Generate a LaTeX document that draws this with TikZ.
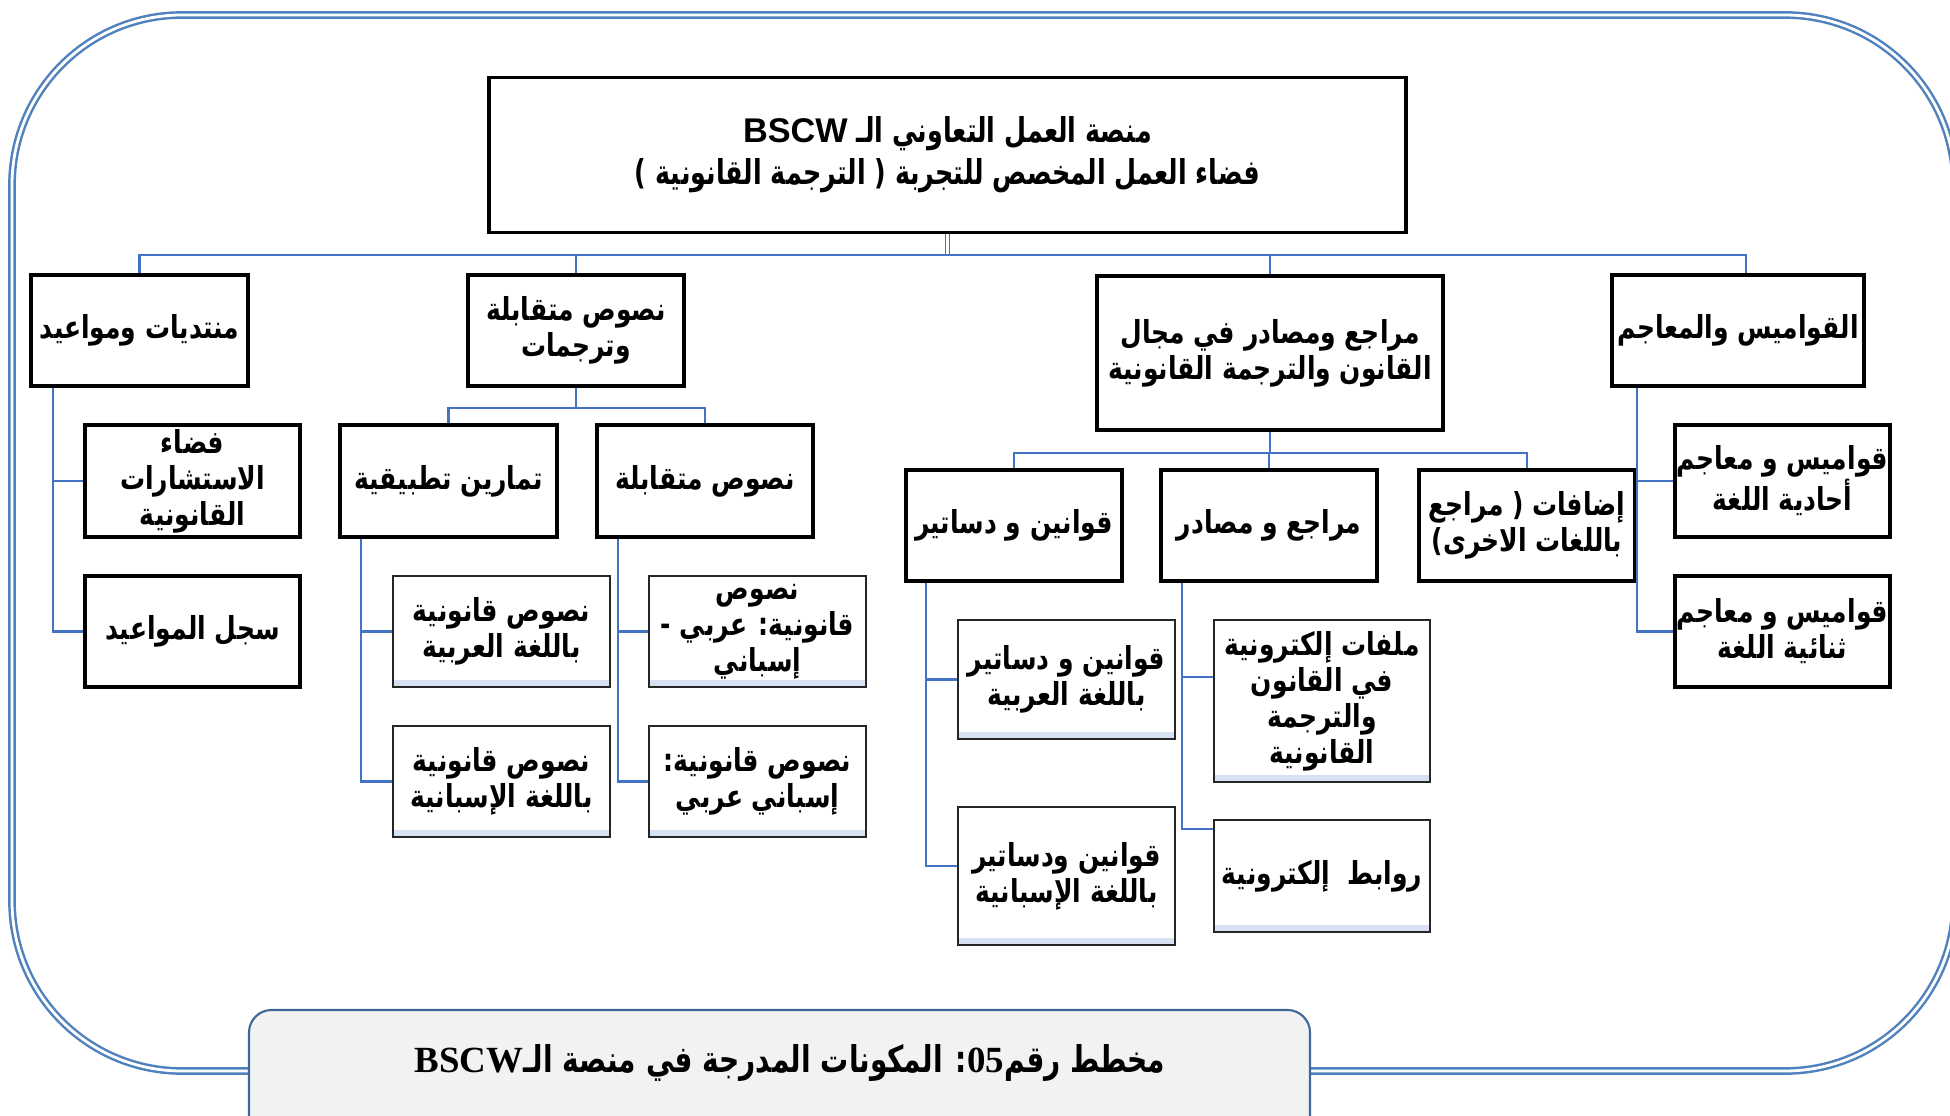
\documentclass[tikz,border=0pt]{standalone}
\usepackage{fontspec}
\usepackage{xcolor}
\usetikzlibrary{calc}
\TeXXeTstate=1
\newfontfamily\arabicfont[Script=Arabic, FakeStretch=0.79]{DejaVu Sans}
\newfontfamily\arabictop[Script=Arabic, FakeStretch=0.74]{DejaVu Sans}
\newfontfamily\arabiccap[Script=Arabic, FakeStretch=0.76]{DejaVu Sans}
\newfontfamily\serifbold{Liberation Serif}
\newfontfamily\sansbold{Liberation Sans}
\newcommand\artext[1]{\beginR #1\endR}
\newcommand\boxfont{\arabicfont\bfseries\fontsize{18}{20.5}\selectfont}
\newcommand\topfont{\arabictop\bfseries\fontsize{19.5}{24}\selectfont}
\newcommand\capfont{\arabiccap\bfseries\fontsize{21}{24}\selectfont}
\definecolor{linkblue}{RGB}{68,114,196}
\definecolor{frameblue}{RGB}{79,129,189}
\definecolor{bandblue}{RGB}{214,226,242}
\definecolor{capfill}{RGB}{242,242,242}

\begin{document}
\begin{tikzpicture}[
  mainbox/.style={draw, line width=2.2pt, inner sep=0pt, align=center, font=\boxfont},
  subbox/.style={draw=black!85, line width=0.9pt, inner sep=0pt, align=center, font=\boxfont,
    path picture={\fill[bandblue] (path picture bounding box.south west) rectangle ([yshift=4pt]path picture bounding box.south east);}},
  link/.style={draw=linkblue, line width=1.4pt}
]
\useasboundingbox (0,0) rectangle (39,22.3);
% frame and caption
\draw[frameblue, line width=1.4pt, double=white, double distance=1.6pt, rounded corners=3.4cm] (0.24,0.88) rectangle (39.1,22.0);
\draw[frameblue!80!black, line width=1.2pt, fill=capfill, rounded corners=0.45cm] (4.98,-0.6) rectangle (26.2,2.10);
\draw (15.8,1.04) node[font=\capfont] (caption) {\artext{مخطط رقم\beginL{\serifbold\bfseries 05}\endL: المكونات المدرجة في منصة الـ\beginL{\serifbold\bfseries BSCW}\endL}};

% top
\draw (18.95,19.2) node[mainbox, minimum width=18.34cm, minimum height=3.10cm, font=\topfont] (platform) {\artext{منصة العمل التعاوني الـ \beginL{\sansbold\bfseries BSCW}\endL}\\\artext{فضاء العمل المخصص للتجربة ( الترجمة القانونية )}};

% first level
\draw (2.79,15.69) node[mainbox, minimum width=4.34cm, minimum height=2.22cm] (forums) {\artext{منتديات ومواعيد}};
\draw (11.52,15.69) node[mainbox, minimum width=4.32cm, minimum height=2.22cm] (parallel) {\artext{نصوص متقابلة}\\\artext{وترجمات}};
\draw (25.40,15.24) node[mainbox, minimum width=6.92cm, minimum height=3.08cm] (refs) {\artext{مراجع ومصادر في مجال}\\\artext{القانون والترجمة القانونية}};
\draw (34.76,15.69) node[mainbox, minimum width=5.04cm, minimum height=2.22cm] (dicts) {\artext{القواميس والمعاجم}};

% second level
\draw (3.85,12.68) node[mainbox, minimum width=4.30cm, minimum height=2.24cm] (consult) {\artext{فضاء}\\\artext{الاستشارات}\\\artext{القانونية}};
\draw (3.85,9.67) node[mainbox, minimum width=4.30cm, minimum height=2.22cm] (agenda) {\artext{سجل المواعيد}};
\draw (8.97,12.68) node[mainbox, minimum width=4.34cm, minimum height=2.24cm] (exercises) {\artext{تمارين تطبيقية}};
\draw (14.10,12.68) node[mainbox, minimum width=4.32cm, minimum height=2.24cm] (texts) {\artext{نصوص متقابلة}};
\draw (20.28,11.79) node[mainbox, minimum width=4.32cm, minimum height=2.22cm] (laws) {\artext{قوانين و دساتير}};
\draw (25.38,11.79) node[mainbox, minimum width=4.32cm, minimum height=2.22cm] (sources) {\artext{مراجع و مصادر}};
\draw (30.54,11.79) node[mainbox, minimum width=4.32cm, minimum height=2.22cm] (extra) {\artext{إضافات ( مراجع}\\\artext{باللغات الاخرى)}};
\draw (35.65,12.68) node[mainbox, minimum width=4.30cm, minimum height=2.24cm] (mono) {\artext{قواميس و معاجم}\\\artext{أحادية اللغة}};
\draw (35.65,9.67) node[mainbox, minimum width=4.30cm, minimum height=2.22cm] (bilingual) {\artext{قواميس و معاجم}\\\artext{ثنائية اللغة}};

% third level
\draw (10.03,9.67) node[subbox, minimum width=4.34cm, minimum height=2.22cm] (exar) {\artext{نصوص قانونية}\\\artext{باللغة العربية}};
\draw (10.03,6.67) node[subbox, minimum width=4.34cm, minimum height=2.22cm] (exes) {\artext{نصوص قانونية}\\\artext{باللغة الإسبانية}};
\draw (15.15,9.67) node[subbox, minimum width=4.34cm, minimum height=2.22cm] (txae) {\artext{نصوص}\\\artext{قانونية: عربي -}\\\artext{إسباني}};
\draw (15.15,6.67) node[subbox, minimum width=4.34cm, minimum height=2.22cm] (txea) {\artext{نصوص قانونية:}\\\artext{إسباني عربي}};
\draw (21.33,8.71) node[subbox, minimum width=4.34cm, minimum height=2.38cm] (lawsar) {\artext{قوانين و دساتير}\\\artext{باللغة العربية}};
\draw (21.33,4.78) node[subbox, minimum width=4.34cm, minimum height=2.76cm] (lawses) {\artext{قوانين ودساتير}\\\artext{باللغة الإسبانية}};
\draw (26.44,8.28) node[subbox, minimum width=4.32cm, minimum height=3.24cm] (efiles) {\artext{ملفات إلكترونية}\\\artext{في القانون}\\\artext{والترجمة}\\\artext{القانونية}};
\draw (26.44,4.78) node[subbox, minimum width=4.32cm, minimum height=2.24cm] (elinks) {\artext{روابط\ \ إلكترونية}};

% connectors
\coordinate (bus) at (18.95,17.20);
\draw[draw=linkblue, line width=0.7pt, double=white, double distance=1.2pt] (platform.south) -- (bus);
\draw[link] (bus) -| (forums.north);
\draw[link] (bus) -| (parallel.north);
\draw[link] (bus) -| (refs.north);
\draw[link] (bus) -| ([xshift=0.16cm]dicts.north);

\draw[link] ($(forums.south west)+(0.48,0)$) |- (consult.west);
\draw[link] ($(forums.south west)+(0.48,0)$) |- (agenda.west);
\draw[link] (parallel.south) -- ++(0,-0.40) -| (exercises.north);
\draw[link] (parallel.south) -- ++(0,-0.40) -| (texts.north);
\draw[link] ($(exercises.south west)+(0.46,0)$) |- (exar.west);
\draw[link] ($(exercises.south west)+(0.46,0)$) |- (exes.west);
\draw[link] ($(texts.south west)+(0.46,0)$) |- (txae.west);
\draw[link] ($(texts.south west)+(0.46,0)$) |- (txea.west);

\draw[link] (refs.south) -- ++(0,-0.42) -| (laws.north);
\draw[link] (refs.south) -- ++(0,-0.42) -| (sources.north);
\draw[link] (refs.south) -- ++(0,-0.42) -| (extra.north);
\draw[link] ($(laws.south west)+(0.44,0)$) |- (lawsar.west);
\draw[link] ($(laws.south west)+(0.44,0)$) |- ([yshift=0.2cm]lawses.west);
\draw[link] ($(sources.south west)+(0.46,0)$) |- ([yshift=-1.16cm]efiles.north west);
\draw[link] ($(sources.south west)+(0.46,0)$) |- ([yshift=-0.2cm]elinks.north west);
\draw[link] ($(dicts.south west)+(0.54,0)$) |- (mono.west);
\draw[link] ($(dicts.south west)+(0.54,0)$) |- (bilingual.west);
\end{tikzpicture}
\end{document}
